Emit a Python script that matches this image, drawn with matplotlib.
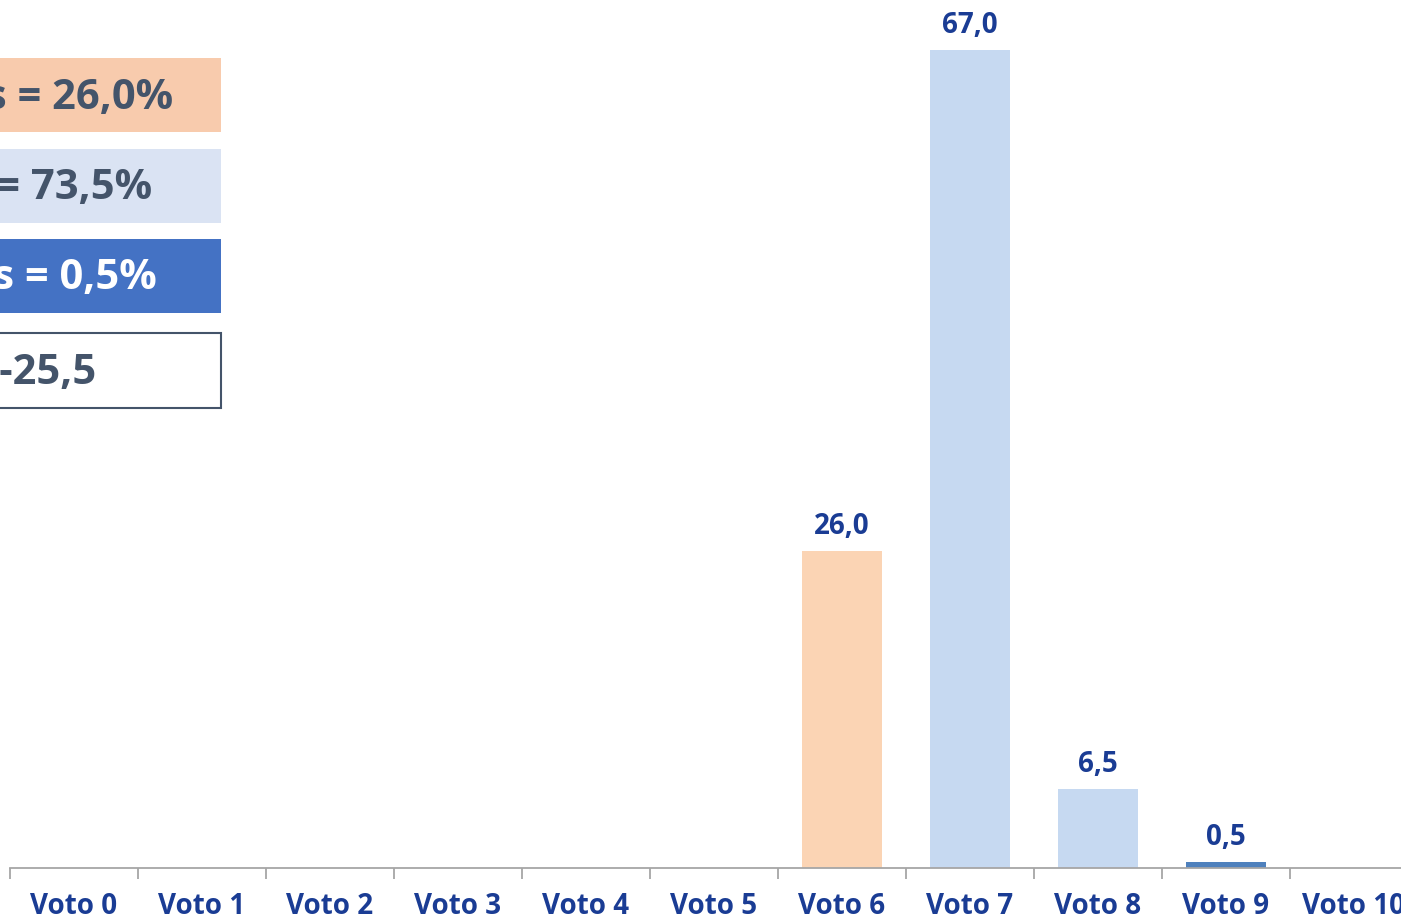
import matplotlib.pyplot as plt
from matplotlib.patches import Rectangle

# vote distribution (% of answers)
categories = [f"Voto {i}" for i in range(11)]
values = [0, 0, 0, 0, 0, 0, 26.0, 67.0, 6.5, 0.5, 0]
bar_colors = ["#FBD4B4"] * 7 + ["#C6D9F1", "#C6D9F1", "#4F81BD", "#C6D9F1"]

# summary boxes: label, fill, text colour, edge
summary = [
    ("Detractors = 26,0%", "#F8CBAD", "#44546A", None),
    ("Passives = 73,5%", "#DAE3F3", "#44546A", None),
    ("Promoters = 0,5%", "#4472C4", "#FFFFFF", None),
    ("NPS = -25,5", "#FFFFFF", "#44546A", "#44546A"),
]

plt.rcParams['font.family'] = ['Open Sans', 'DejaVu Sans']

W, H = 1401, 921
fig = plt.figure(figsize=(W / 100, H / 100), dpi=100)

# axes spans 11 slots of 128 px, starting at x=10, baseline at y=868
ax = fig.add_axes([10 / W, (H - 868) / H, 1408 / W, 854.7 / H])
ax.set_xlim(-0.5, 10.5)
ax.set_ylim(0, 70)

x = list(range(len(categories)))
ax.bar(x, values, width=0.625, color=bar_colors, zorder=2)

for xi, v in zip(x, values):
    if v > 0:
        ax.text(xi, v + 0.8, f"{v:.1f}".replace(".", ","), ha="center", va="bottom",
                fontsize=20, fontweight="bold", color="#1A3C94")

for s in ["top", "right", "left"]:
    ax.spines[s].set_visible(False)
ax.spines["bottom"].set_color("#A6A6A6")
ax.spines["bottom"].set_linewidth(1.3)
ax.set_yticks([])

# ticks at slot boundaries, labels at slot centres
ax.set_xticks([i - 0.5 for i in range(12)])
ax.set_xticklabels([])
ax.tick_params(axis="x", which="major", length=8, width=1.3, color="#A6A6A6", direction="out")
ax.set_xticks(x, minor=True)
ax.set_xticklabels(categories, minor=True, fontsize=20, fontweight="bold", color="#1A3C94")
ax.tick_params(axis="x", which="minor", length=0, pad=17)

# summary boxes on the left (pixel coords from the top)
boxes = [(58, 132, 173), (149, 223, 152), (239, 313, 157), (333, 408, 96)]
for (label, fc, tc, ec), (y0, y1, xend) in zip(summary, boxes):
    rect = Rectangle((-60 / W, (H - y1) / H), 281 / W, (y1 - y0) / H,
                     transform=fig.transFigure, facecolor=fc,
                     edgecolor=ec if ec else "none", linewidth=1.5)
    fig.add_artist(rect)
    fig.text(xend / W, (H - (y0 + y1) / 2 - 3) / H, label, ha="right", va="center",
             fontsize=30, fontweight="bold", color=tc)

fig.savefig("out.png", dpi=100)
